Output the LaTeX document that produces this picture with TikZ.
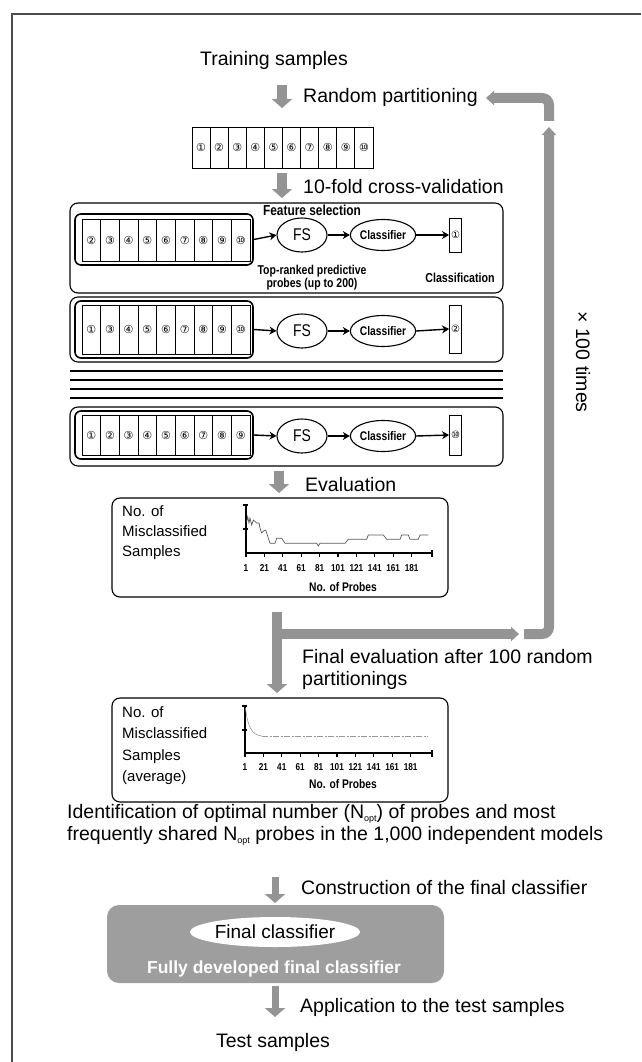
\documentclass[tikz,border=0pt]{standalone}
\usepackage{fontspec}
\setmainfont{Liberation Sans}
\newfontfamily\cf{Liberation Sans}[FakeStretch=0.82]
\newfontfamily\dv{DejaVu Sans}
\usetikzlibrary{arrows.meta,shapes.geometric}
\tikzset{
  lbl/.style={font=\fontsize{19.5}{22}\selectfont, inner sep=0pt},
  frameline/.style={draw=black!70, line width=1.2pt},
  gbar/.style={line width=10pt, draw=black!42},
  garrow/.style={gbar, -{Triangle[width=20pt,length=9pt]}},
  gloop/.style={gbar, rounded corners=7pt, -{Triangle[width=14pt,length=8pt]}},
  cellbox/.style={draw, line width=0.9pt, inner sep=0pt, minimum width=18.1pt, font=\dv\fontsize{11}{11}\selectfont},
  grp/.style={draw, line width=1.6pt, rounded corners=6pt, inner sep=0pt, minimum width=178pt},
  bigbox/.style={draw, line width=1.1pt, rounded corners=8pt, inner sep=0pt, minimum width=433pt},
  resbox/.style={draw, line width=0.9pt, inner sep=0pt, minimum width=12pt, font=\dv\fontsize{10}{10}\selectfont},
  fsell/.style={ellipse, draw, line width=1.1pt, inner sep=0pt, minimum width=50pt, minimum height=34pt, font=\cf\fontsize{17}{17}\selectfont},
  clell/.style={ellipse, draw, line width=1.1pt, inner sep=0pt, minimum width=57pt, minimum height=31pt, font=\cf\bfseries\fontsize{12.5}{12.5}\selectfont},
  arr/.style={line width=1.4pt, -{Stealth[length=7pt,width=8pt]}},
  small/.style={font=\cf\bfseries\fontsize{13}{13}\selectfont, inner sep=0pt},
  chbox/.style={draw, line width=1.1pt, rounded corners=8pt, inner sep=0pt, minimum width=336pt},
  chlbl/.style={font=\fontsize{15}{20}\selectfont, inner sep=0pt, align=left, anchor=north west},
  axis/.style={line width=1.1pt},
  ticklbl/.style={font=\cf\bfseries\fontsize{10}{10}\selectfont, inner sep=0pt},
  probes/.style={font=\cf\bfseries\fontsize{12.5}{13}\selectfont, inner sep=0pt},
}
\begin{document}
\begin{tikzpicture}[x=1pt,y=-1pt]
\useasboundingbox (0,0) rectangle (641,1062);
% outer frame
\draw[frameline] (12,1062) -- (12,14) -- (641,14);

% top texts
\node[lbl] (ts) at (274,60) {Training samples};
\node[lbl, anchor=west] (rp) at (303,97) {Random partitioning};
\coordinate (a1s) at (282,85); \coordinate (a1e) at (282,108);
\draw[garrow] (a1s) -- (a1e);

% partition box
\foreach \d [count=\i from 0] in {①,②,③,④,⑤,⑥,⑦,⑧,⑨,⑩}
  \node[cellbox, minimum height=41pt] (p\i) at ({201.05+18.1*\i},147.5) {\d};

\node[lbl, anchor=west] (cv) at (303,187) {10-fold cross-validation};
\coordinate (a2s) at (282,173); \coordinate (a2e) at (282,198);
\draw[garrow] (a2s) -- (a2e);

% box 1
\node[bigbox, minimum height=90pt] (b1) at (286.5,248) {};
\node[grp, minimum height=51pt] (g1) at (164,239.5) {};
\foreach \d [count=\i from 0] in {②,③,④,⑤,⑥,⑦,⑧,⑨,⑩}
  \node[cellbox, minimum width=18.67pt, minimum height=42pt] (ga\i) at ({91.33+18.67*\i},240) {\d};
\node[fsell] (fs1) at (302,235) {FS};
\node[clell] (cl1) at (383,235) {Classifier};
\node[resbox, minimum height=34pt] (r1) at (455.5,235) {①};
\draw[arr] (g1.east) -- (fs1.west);
\draw[arr] (fs1.east) -- (cl1.west);
\draw[arr] (cl1.east) -- (r1.west);
\node[small, font=\cf\bfseries\fontsize{14.5}{15}\selectfont] (fsel) at (312,210) {Feature selection};
\node[small, align=center, font=\cf\bfseries\fontsize{12.8}{13}\selectfont] (topr) at (312,277.5) {Top-ranked predictive\\probes (up to 200)};
\node[small] (clf) at (460,278) {Classification};

% box 2
\node[bigbox, minimum height=65pt] (b2) at (286.5,329.5) {};
\node[grp, minimum height=57pt] (g2) at (164,329.5) {};
\foreach \d [count=\i from 0] in {①,③,④,⑤,⑥,⑦,⑧,⑨,⑩}
  \node[cellbox, minimum width=18.67pt, minimum height=49pt] (gb\i) at ({91.33+18.67*\i},329.5) {\d};
\node[fsell] (fs2) at (302,331) {FS};
\node[clell] (cl2) at (383,331) {Classifier};
\node[resbox, minimum height=48pt] (r2) at (455.5,329) {②};
\draw[arr] (g2.east) -- (fs2.west);
\draw[arr] (fs2.east) -- (cl2.west);
\draw[arr] (cl2.east) -- (r2.west);

% stripes
\foreach \yy in {371,380,389,398}
  \draw[line width=1.4pt] (70,\yy) -- (503,\yy);

% box 3
\node[bigbox, minimum height=59pt] (b3) at (286.5,436.5) {};
\node[grp, minimum height=48pt] (g3) at (164,435) {};
\foreach \d [count=\i from 0] in {①,②,③,④,⑤,⑥,⑦,⑧,⑨}
  \node[cellbox, minimum width=18.67pt, minimum height=40pt] (gc\i) at ({91.33+18.67*\i},435) {\d};
\node[fsell] (fs3) at (302,436) {FS};
\node[clell] (cl3) at (383,436) {Classifier};
\node[resbox, minimum height=40pt] (r3) at (455.5,435) {⑩};
\draw[arr] (g3.east) -- (fs3.west);
\draw[arr] (fs3.east) -- (cl3.west);
\draw[arr] (cl3.east) -- (r3.west);

% evaluation
\node[lbl, anchor=west] (ev) at (305,485) {Evaluation};
\coordinate (a3s) at (279,471); \coordinate (a3e) at (279,493);
\draw[garrow] (a3s) -- (a3e);

% chart 1
\node[chbox, minimum height=99pt] (c1) at (280,547.5) {};
\node[chlbl] (c1l) at (122,505) {No. of\\Misclassified\\Samples};
\draw[axis] (246,505) -- (246,553) -- (432,553);
\foreach \yy in {505,529} \draw[axis] (243,\yy) -- (248,\yy);
\foreach \t [count=\k from 0] in {1,21,41,61,81,101,121,141,161,181} {
  \draw[axis] ({246+18.4*\k},553) -- ({246+18.4*\k},557);
  \node[ticklbl] at ({246+18.4*\k},568) {\t};
}
\draw[axis] (432,550) -- (432,557);
\node[probes] (c1p) at (343,587) {No. of Probes};
\draw[black!65, line width=0.7pt] (246.7,521.7) -- (247.7,516.7) -- (249,523) -- (250,518) -- (251.7,525) -- (253.3,520) -- (256.7,523) -- (259,523) -- (260,528) -- (261.7,533) -- (264,530.7) -- (265.7,530) -- (267.3,535) -- (270,543.3) -- (275,543.3) -- (276.7,538.3) -- (281.7,538.3) -- (285,543.3) -- (316.7,543.3) -- (318.3,546) -- (320,543.3) -- (345,543.3) -- (348.3,539.3) -- (366.7,539.3) -- (368.3,535) -- (383.3,535) -- (386.7,539.3) -- (400,539.3) -- (401.7,535) -- (408.3,535) -- (410,539.3) -- (418.3,539.3) -- (420,535) -- (428.3,535);

% loop and big arrow
\coordinate (bvs) at (277,612); \coordinate (bve) at (277,693);
\coordinate (bhs) at (277,634); \coordinate (bhe) at (519,634);
\coordinate (lp1) at (524,634); \coordinate (lp2) at (549,634); \coordinate (lp3) at (549,127);
\coordinate (lq1) at (549,121); \coordinate (lq2) at (549,98); \coordinate (lq3) at (486,98);
\draw[gloop] (bhs) -- (bhe);
\draw[garrow] (bvs) -- (bve);
\draw[gloop] (lp1) -- (lp2) -- (lp3);
\draw[gloop] (lq1) -- (lq2) -- (lq3);
\node[lbl, rotate=-90] (times) at (583,362) {× 100 times};

\node[lbl, anchor=north west, align=left] (fe) at (302,649) {Final evaluation after 100 random\\partitionings};

% chart 2
\node[chbox, minimum height=104pt] (c2) at (280,750) {};
\node[chlbl, font=\fontsize{15}{21.5}\selectfont] (c2l) at (122,706) {No. of\\Misclassified\\Samples\\(average)};
\draw[axis] (245,706) -- (245,753) -- (432,753);
\foreach \yy in {706,730} \draw[axis] (242,\yy) -- (247,\yy);
\foreach \t [count=\k from 0] in {1,21,41,61,81,101,121,141,161,181} {
  \draw[axis] ({245+18.4*\k},753) -- ({245+18.4*\k},757);
  \node[ticklbl] at ({245+18.4*\k},767) {\t};
}
\draw[axis] (432,750) -- (432,757);
\node[probes] (c2p) at (343,784) {No. of Probes};
\draw[black!40, line width=0.6pt] (245.5,708) .. controls (248,728) and (252,735) .. (262,736);
\draw[black!40, line width=0.6pt, dash pattern=on 6pt off 1.5pt on 2pt off 1.5pt] (262,736) -- (428,736);

% identification
\node[lbl, anchor=north west, align=left] (idn) at (67,804) {Identification of optimal number (N\raisebox{-0.35ex}{\fontsize{9}{9}\selectfont opt}) of probes and most\\frequently shared N\raisebox{-0.35ex}{\fontsize{9}{9}\selectfont opt} probes in the 1,000 independent models};

% construction
\node[lbl, anchor=west] (cons) at (301,888) {Construction of the final classifier};
\coordinate (a4s) at (275,877); \coordinate (a4e) at (275,903);
\draw[garrow, line width=7pt] (a4s) -- (a4e);

\node[fill=black!38, rounded corners=12pt, minimum width=337pt, minimum height=78pt, inner sep=0pt] (fbox) at (275.5,944) {};
\node[ellipse, fill=white, minimum width=165pt, minimum height=30pt, inner sep=0pt, font=\fontsize{19}{19}\selectfont] (fcl) at (275,932) {Final classifier};
\node[text=white, font=\bfseries\fontsize{17.5}{17.5}\selectfont, inner sep=0pt] (fdev) at (274,969) {Fully developed final classifier};

% application
\node[lbl, anchor=west] (app) at (300,1007) {Application to the test samples};
\coordinate (a5s) at (275,986); \coordinate (a5e) at (275,1017);
\draw[garrow, line width=7pt] (a5s) -- (a5e);
\node[lbl] (tst) at (273,1042) {Test samples};
\end{tikzpicture}
\end{document}
